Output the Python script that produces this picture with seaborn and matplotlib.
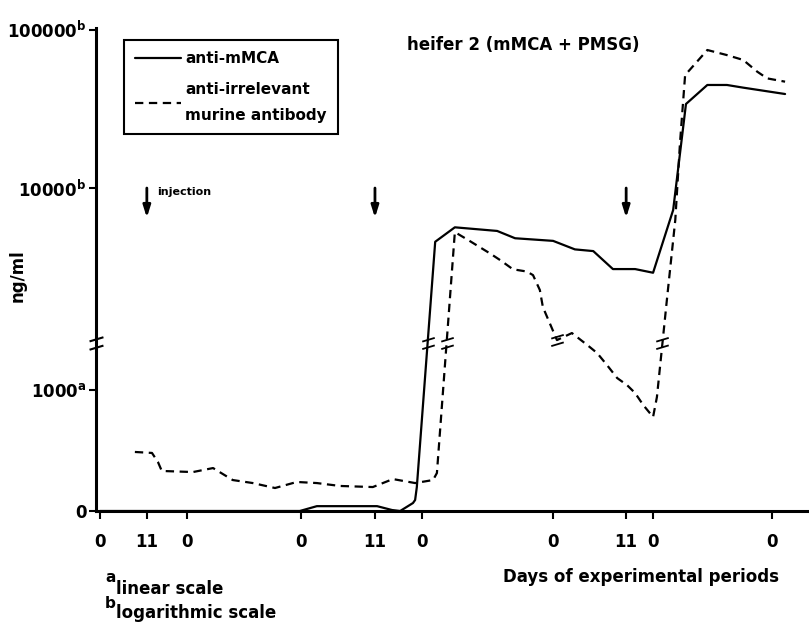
import numpy as np
import pandas as pd
import matplotlib
matplotlib.use("Agg")
import matplotlib.pyplot as plt
from matplotlib.path import Path
from matplotlib.transforms import blended_transform_factory
import seaborn as sns

# ---------------- data (days of experimental periods, ng/ml) ----------------
solid_days = [0, 46.8, 50.8, 64.9, 68.4, 70.3, 73.3, 73.8, 74.2, 78.5, 83.1, 93.0,
              97.2, 106.1, 111.2, 115.5, 120.1, 125.3, 129.5, 134.2, 137.2, 142.2,
              146.8, 150.6, 160.4]
solid_vals = [0, 0, 40, 40, 8, 0, 66, 91, 198, 4580, 5650, 5360,
              4820, 4640, 4100, 4000, 3080, 3080, 2920, 7260, 33900, 44700,
              44700, 43000, 39200]

dashed_days = [8.2, 12.2, 13.6, 14.5, 21.8, 26.5, 31.1, 35.8, 41.0, 46.1, 50.8, 56.2,
               63.9, 68.6, 73.8, 78.0, 78.9, 83.1, 86.2, 91.3, 93.7, 96.7, 100.0,
               101.4, 103.0, 103.7, 107.0, 110.5, 114.1, 116.4, 118.7, 121.1, 123.4,
               125.3, 127.2, 129.5, 130.4, 132.8, 134.7, 135.8, 137.0, 142.2, 146.8,
               150.6, 153.9, 156.2, 160.4]
dashed_vals = [488, 480, 405, 331, 322, 355, 256, 231, 190, 240, 231, 207,
               198, 264, 231, 256, 314, 5270, 4700, 3870, 3510, 3070, 2970,
               2820, 2270, 1775, 1413, 1471, 1372, 1306, 1207, 1099, 1041,
               975, 876, 777, 942, 2050, 6290, 19200, 51600, 74300, 69000,
               64300, 54200, 49200, 46900]

tick_days = [0, 11, 20.4, 47.1, 64.4, 75.4, 106.1, 123.2, 129.5, 157.4]
tick_labels = ["0", "11", "0", "0", "11", "0", "0", "11", "0", "0"]
injection_days = [11, 64.4, 123.2]

ytick_vals = [0, 1000, 10000, 100000]
ytick_labels = ["0", r"1000$^{\mathregular{a}}$", r"10000$^{\mathregular{b}}$",
                r"100000$^{\mathregular{b}}$"]

# ---------------- broken scale: linear below, logarithmic above ----------------
T = 1600.0           # values up to T on the linear part
K = 1310.0           # scale units per decade on the log part
OFF = 2570.0
FB = 1388.0          # position of the axis break (scale units)


def fwd(v):
    v = np.asarray(v, dtype=float)
    with np.errstate(divide="ignore", invalid="ignore"):
        lg = K * np.log10(np.where(v > 0, v, 1.0)) - OFF
    return np.where(v <= T, v, lg)


def inv(u):
    u = np.asarray(u, dtype=float)
    uT = K * np.log10(T) - OFF
    with np.errstate(over="ignore"):
        lg = 10 ** ((np.clip(u, -1e4, 1e4) + OFF) / K)
    return np.where(u <= T, u, np.where(u >= uT, lg, T))


sns.set_style("ticks")
plt.rcParams["font.family"] = ["DejaVu Sans"]
plt.rcParams["mathtext.default"] = "regular"
plt.rcParams["lines.scale_dashes"] = False
for k in ["text.color", "axes.labelcolor", "xtick.color", "ytick.color",
          "axes.edgecolor"]:
    plt.rcParams[k] = "black"

fig = plt.figure(figsize=(8.09, 6.24), dpi=100)
ax = fig.add_axes([96 / 809, 1 - 511 / 624, 1 - 96 / 809, (511 - 28) / 624])

df_s = pd.DataFrame({"day": solid_days, "ngml": solid_vals})
df_d = pd.DataFrame({"day": dashed_days, "ngml": dashed_vals})

sns.lineplot(data=df_s, x="day", y="ngml", ax=ax, color="black", lw=1.6,
             label="anti-mMCA", sort=False)
sns.lineplot(data=df_d, x="day", y="ngml", ax=ax, color="black", lw=1.6,
             label="anti-irrelevant\nmurine antibody", sort=False)
ax.lines[1].set_dashes((6, 4))

ax.set_yscale("function", functions=(fwd, inv))
ax.set_ylim(0, 102300)
ax.set_xlim(-0.9, 166.0)

# break marks
brk = Path([(-1, -0.9), (1, -0.3), (-1, 0.3), (1, 0.9)],
           [Path.MOVETO, Path.LINETO, Path.MOVETO, Path.LINETO])


def break_points(xs, ys):
    pts = []
    for i in range(len(xs) - 1):
        a, b = ys[i], ys[i + 1]
        if (a <= T) != (b <= T):
            fa, fb = float(fwd(a)), float(fwd(b))
            if min(fa, fb) <= FB <= max(fa, fb):
                t = (FB - fa) / (fb - fa)
                pts.append((xs[i] + t * (xs[i + 1] - xs[i]), FB))
            else:
                j = i if a <= T else i + 1
                pts.append((xs[j], ys[j]))
    return pts


for xs, ys in [(solid_days, solid_vals), (dashed_days, dashed_vals)]:
    for (bx, by) in break_points(xs, ys):
        ax.plot([bx], [by], marker=brk, markersize=9, markeredgewidth=1.3,
                color="black", markerfacecolor="none", linestyle="none")

trans = blended_transform_factory(ax.transAxes, ax.transData)
ax.plot([0], [FB], marker=brk, markersize=10, markeredgewidth=1.5,
        color="black", markerfacecolor="none", linestyle="none",
        transform=trans, clip_on=False)

# axes styling
for s in ["top", "right"]:
    ax.spines[s].set_visible(False)
for s in ["left", "bottom"]:
    ax.spines[s].set_linewidth(2.2)
    ax.spines[s].set_color("black")
ax.set_yticks(ytick_vals)
ax.set_yticklabels(ytick_labels, fontsize=12, fontweight="bold")
ax.yaxis.set_minor_locator(matplotlib.ticker.NullLocator())
ax.set_xticks(tick_days)
ax.set_xticklabels(tick_labels, fontsize=12, fontweight="bold")
ax.tick_params(axis="y", length=5, width=1.5, pad=2, colors="black")
ax.tick_params(axis="x", length=6, width=1.5, pad=10, colors="black")
ax.set_xlabel("")
ax.set_ylabel("")

# injection arrows
for d in injection_days:
    ax.annotate("", xy=(d, 6500), xytext=(d, 10000),
                arrowprops=dict(arrowstyle="-|>,head_length=0.7,head_width=0.22",
                                color="black", lw=2, shrinkA=0, shrinkB=0))
ax.text(injection_days[0] + 2.3, 9440, "injection", fontsize=8,
        fontweight="bold", va="center", ha="left")

# legend
leg = ax.legend(loc="upper left", bbox_to_anchor=(124 / 809, 1 - 40 / 624),
                bbox_transform=fig.transFigure, borderaxespad=0, fancybox=False,
                framealpha=1, edgecolor="black", handlelength=3.0,
                handletextpad=0.25, prop={"size": 11, "weight": "bold"},
                labelspacing=1.0, borderpad=0.75)
leg.get_frame().set_linewidth(1.5)
for t in leg.get_texts():
    t.set_linespacing(1.9)
    t.set_color("black")

# texts
fig.text(407 / 809, 1 - 45 / 624, "heifer 2 (mMCA + PMSG)", fontsize=12,
         fontweight="bold", ha="left", va="center")
fig.text(18 / 809, 1 - 276 / 624, "ng/ml", fontsize=12, fontweight="bold",
         rotation=90, ha="center", va="center")
fig.text(641 / 809, 1 - 577 / 624, "Days of experimental periods", fontsize=12,
         fontweight="bold", ha="center", va="center")
fig.text(105 / 809, 1 - 578 / 624, "a", fontsize=11, fontweight="bold",
         ha="left", va="center")
fig.text(116 / 809, 1 - 589 / 624, "linear scale", fontsize=12, fontweight="bold",
         ha="left", va="center")
fig.text(105 / 809, 1 - 603 / 624, "b", fontsize=11, fontweight="bold",
         ha="left", va="center")
fig.text(116 / 809, 1 - 613 / 624, "logarithmic scale", fontsize=12,
         fontweight="bold", ha="left", va="center")

fig.savefig("out.png", dpi=100)
